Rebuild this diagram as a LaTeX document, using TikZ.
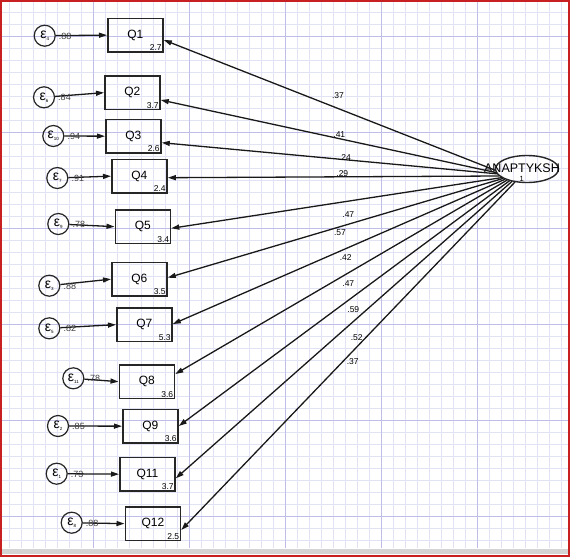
\documentclass[tikz,border=0pt]{standalone}
\usepackage{fontspec}
\setmainfont{Liberation Sans}
\usetikzlibrary{arrows.meta,shapes.geometric,calc}
\definecolor{minorg}{RGB}{226,226,245}
\definecolor{majorg}{RGB}{190,190,232}
\definecolor{framered}{RGB}{200,32,32}
\definecolor{barg}{RGB}{212,212,212}
\newcommand\errsym[1]{ε\raisebox{-2pt}{\fontsize{4.5}{5}\selectfont#1}}
\begin{document}
\begin{tikzpicture}[x=1pt,y=-1pt,
  minorgrid/.style={draw=minorg,line width=0.8pt},
  majorgrid/.style={draw=majorg,line width=0.9pt},
  obs/.style={draw=black!85,line width=1.5pt,minimum width=55.3pt,minimum height=33.8pt,inner sep=0pt,anchor=north west,font=\fontsize{12}{13}\selectfont},
  val/.style={inner sep=0pt,font=\fontsize{8.5}{9}\selectfont},
  err/.style={draw=black!85,line width=1.2pt,circle,minimum size=21pt,inner sep=0pt,font=\fontsize{14}{14}\selectfont},
  elab/.style={inner sep=0pt,text=black!75,font=\fontsize{9}{9}\selectfont},
  coef/.style={inner sep=0pt,font=\fontsize{8.5}{9}\selectfont},
  arr/.style={draw=black!90,line width=1.3pt,-{Triangle[length=8pt,width=5pt]}},
  lat/.style={draw=black!85,line width=1.4pt,ellipse,minimum width=63pt,minimum height=27pt,inner sep=0pt}
]
\useasboundingbox (0,0) rectangle (570,557);
% grid background
\fill[white] (0,0) rectangle (570,557);
\foreach \i in {0,...,46} \draw[minorgrid] ({9+12*\i},2) -- ({9+12*\i},548);
\foreach \j in {1,...,45} \draw[minorgrid] (2,{12*\j}) -- (568,{12*\j});
\foreach \x in {93,189,285,381,477} \draw[majorgrid] (\x,2) -- (\x,548);
\foreach \y in {36,132,228,324,420,516} \draw[majorgrid] (2,\y) -- (568,\y);
% window frame
\fill[barg] (2,549) rectangle (567.5,554);
\fill[framered] (0,0) rectangle (570,2);
\fill[framered] (0,0) rectangle (2,557);
\fill[framered] (567.5,0) rectangle (570,557);
\fill[framered] (0,554.5) rectangle (570,557);

% observed variables
\foreach \n/\x/\y/\v/\dy in {1/107/17.5/2.7/22.5, 2/104/75/3.7/25, 3/105/118.5/2.6/24.2,
  4/111/158.5/2.4/19.2, 5/114.5/209/3.4/19.3, 6/111/261.5/3.5/16.2, 7/116/307/5.3/17,
  8/118.5/364/3.6/10, 9/122/408.5/3.6/17.5, 11/119/456.5/3.7/21.8, 12/124.5/506/2.5/24}{
  \node[obs] (q\n) at (\x,\y) {Q\n};
  \node[val,anchor=south east] (v\n) at ($(q\n.south east)+(-2,-2)$) {\v};
  \coordinate (t\n) at ($(q\n.north east)+(0,\dy)$);
}

% error terms
\foreach \s/\x/\y/\l/\n in {4/44.7/35.7/.88/1, 6/44/97.3/.84/2, 10/53.3/136/.94/3,
  7/57.3/178/.91/4, 9/58.3/224/.78/5, 3/49.3/285.7/.88/6, 5/49.3/328.3/.82/7,
  11/73.3/378.3/.78/8, 2/58/426/.85/9, 1/56.7/473.7/.73/11, 8/71.7/522.7/.88/12}{
  \node[err] (e\s) at (\x,\y) {\errsym{\s}};
  \draw[arr] (e\s) -- (q\n.west);
  \node[elab] (el\s) at ($(e\s)+(20.5,0.5)$) {\l};
}

% latent variable
\node[lat] (ell) at (527,169) {};
\node[inner sep=0pt,font=\fontsize{12.5}{13}\selectfont] (latname) at (522,168) {ANAPTYKSH};
\node[inner sep=0pt,font=\fontsize{7.5}{8}\selectfont] (latval) at (521.7,179) {1};

% paths from latent variable
\foreach \n/\sx/\sy in {1/495.1/170.2, 2/496.1/172.6, 3/496.9/173.8, 4/499.3/176,
  5/501.8/177.6, 6/503.2/178.4, 7/505.2/179.2, 8/507.3/180, 9/509.6/180.7,
  11/512/181.4, 12/515/182}{
  \coordinate (s\n) at (\sx,\sy);
  \draw[arr] (s\n) -- (t\n);
}

% path coefficients
\node[coef] (c1) at (338,95.7) {.37};
\node[coef] (c2) at (339.3,135) {.41};
\node[coef] (c3) at (345,157.3) {.24};
\node[coef] (c4) at (342.3,173.3) {.29};
\node[coef] (c5) at (348.3,214.3) {.47};
\node[coef] (c6) at (340,232.3) {.57};
\node[coef] (c7) at (345.7,258) {.42};
\node[coef] (c8) at (348.3,284) {.47};
\node[coef] (c9) at (353.3,309.3) {.59};
\node[coef] (c11) at (356.7,337.3) {.52};
\node[coef] (c12) at (352.7,361.7) {.37};
\end{tikzpicture}
\end{document}
